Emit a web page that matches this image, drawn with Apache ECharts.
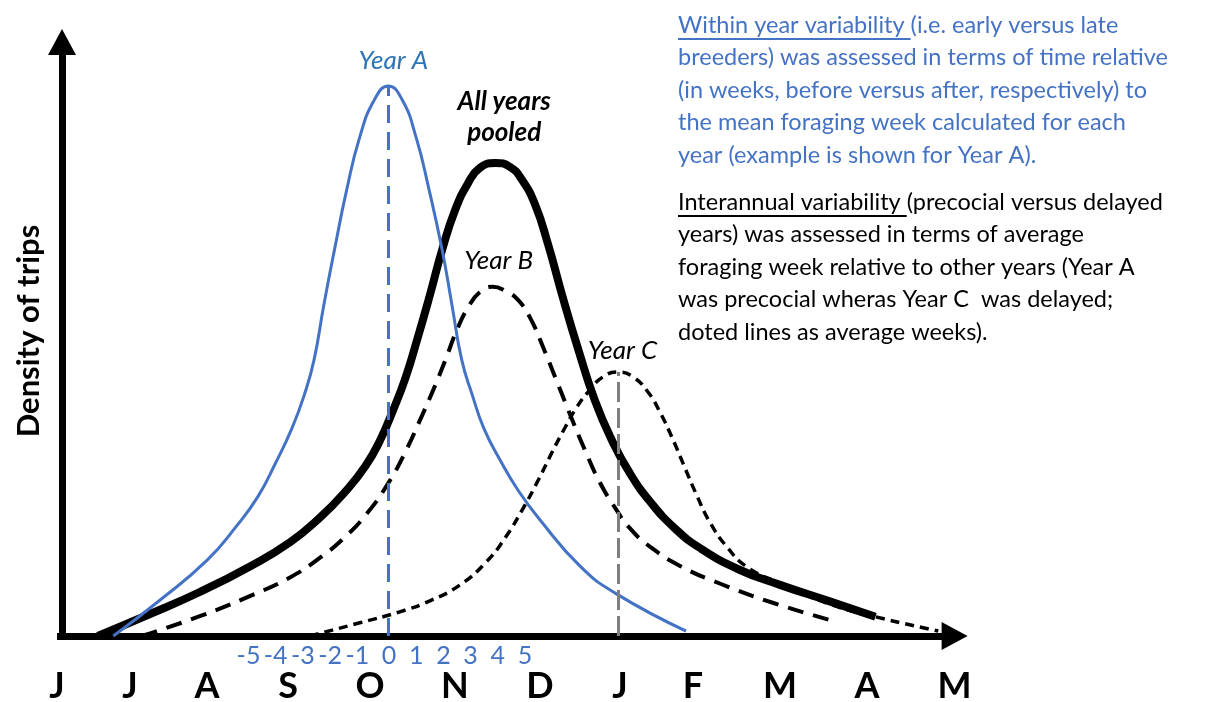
<!DOCTYPE html>
<html>
<head>
<meta charset="utf-8">
<script src="https://cdn.jsdelivr.net/npm/echarts@6/dist/echarts.min.js"></script>
<style>
  html, body { margin: 0; padding: 0; background: #ffffff; }
  #chart { width: 1215px; height: 702px; }
</style>
</head>
<body>
<div id="chart"></div>
<script>
// Month initials along the time axis (June to May) and where each one sits
const months = ['J', 'J', 'A', 'S', 'O', 'N', 'D', 'J', 'F', 'M', 'A', 'M'];
const monthPos = [0, 0.895, 1.838, 2.831, 3.836, 4.877, 5.919, 6.900, 7.794, 8.860, 9.926, 11.0];
// Relative weeks around the Year A mean foraging week
const weekMin = -5;
const weekMax = 5;

// Density curves: [time position, relative density]
const yearA = [
  [0.69, 0], [1.26, 6.5], [1.84, 13.8], [2.19, 19.8], [2.46, 25.3], [2.68, 31.5],
  [2.88, 37.8], [3.03, 43.8], [3.15, 50.2], [3.27, 60.2], [3.40, 70.2], [3.55, 81.1],
  [3.71, 90.7], [3.89, 97.5], [4.06, 100], [4.23, 97.5], [4.40, 90.7], [4.56, 81.1],
  [4.72, 70.2], [4.84, 60.2], [4.96, 50.2], [5.09, 43.8], [5.23, 37.8], [5.43, 32.0],
  [5.65, 26.5], [5.92, 21.1], [6.41, 12.7], [6.84, 7.8], [7.71, 0.9]
];
const pooled = [
  [0.50, 0], [1.14, 4.0], [1.75, 8.0], [2.37, 12.7], [2.86, 17.1], [3.22, 21.5],
  [3.53, 26.2], [3.78, 30.9], [3.96, 35.6], [4.12, 41.1], [4.27, 46.9], [4.42, 54.2],
  [4.57, 62.0], [4.72, 70.2], [4.88, 77.5], [5.04, 82.4], [5.18, 85.1], [5.37, 86.0],
  [5.55, 85.3], [5.70, 82.9], [5.86, 78.4], [6.02, 71.1], [6.19, 62.0], [6.39, 52.0],
  [6.59, 42.9], [6.80, 35.6], [7.02, 29.6], [7.27, 24.4], [7.57, 19.6], [7.88, 16.0],
  [8.37, 12.0], [8.86, 9.3], [9.47, 6.3], [10.03, 3.5]
];
const yearB = [
  [1.04, 0], [1.75, 3.6], [2.37, 7.3], [2.86, 10.7], [3.22, 14.2], [3.53, 18.0],
  [3.81, 22.5], [4.06, 27.8], [4.27, 33.5], [4.45, 39.3], [4.61, 44.7], [4.76, 50.2],
  [4.90, 55.6], [5.04, 59.8], [5.18, 62.5], [5.34, 63.5], [5.50, 62.7], [5.65, 61.1],
  [5.80, 57.8], [5.96, 52.4], [6.12, 46.5], [6.29, 40.2], [6.47, 33.8], [6.65, 28.0],
  [6.84, 23.3], [7.02, 19.6], [7.27, 16.2], [7.64, 12.7], [8.13, 9.5], [8.78, 6.0],
  [9.57, 2.5]
];
const yearC = [
  [3.10, 0], [3.71, 2.4], [4.20, 4.4], [4.57, 6.4], [4.94, 9.3], [5.25, 13.3],
  [5.49, 17.8], [5.70, 22.9], [5.90, 28.4], [6.07, 33.5], [6.23, 38.0], [6.37, 41.6],
  [6.51, 44.4], [6.69, 47.1], [6.88, 48.0], [7.06, 47.1], [7.24, 44.4], [7.39, 40.7],
  [7.54, 36.0], [7.68, 31.1], [7.84, 25.6], [8.00, 20.7], [8.21, 16.2], [8.46, 12.5],
  [8.86, 9.6], [9.47, 5.8], [10.03, 3.5], [10.80, 0.9]
];

const yAxisTitle = 'Density of trips';
const curveNames = ['Year A', 'All years\npooled', 'Year B', 'Year C'];

const withinHead = 'Within year variability ';
const withinLines = [
  withinHead + '(i.e. early versus late',
  'breeders) was assessed in terms of time relative',
  '(in weeks, before versus after, respectively) to',
  'the mean foraging week calculated for each',
  'year (example is shown for Year A).'
];
const interHead = 'Interannual variability ';
const interLines = [
  interHead + '(precocial versus delayed',
  'years) was assessed in terms of average',
  'foraging week relative to other years (Year A',
  'was precocial wheras Year C  was delayed;',
  'doted lines as average weeks).'
];

const BLUE = '#4472C4';
const FONT = 'Lato, "Open Sans", sans-serif';
const paraFontSize = 23.5;

function peakOf(arr) {
  return arr.reduce((a, b) => (b[1] > a[1] ? b : a));
}
const peakA = peakOf(yearA);
const peakP = peakOf(pooled);
const peakB = peakOf(yearB);
const peakC = peakOf(yearC);

// width of the underlined lead-in words
const measureCtx = document.createElement('canvas').getContext('2d');
measureCtx.font = paraFontSize + 'px Lato';
const withinHeadW = measureCtx.measureText(withinHead).width;
const interHeadW = measureCtx.measureText(interHead).width;

function monthLabel(v) {
  let best = 0;
  for (let i = 1; i < monthPos.length; i++) {
    if (Math.abs(monthPos[i] - v) < Math.abs(monthPos[best] - v)) best = i;
  }
  return months[best];
}

function nameTag(coord, text, offset, style) {
  return {
    symbol: 'circle',
    symbolSize: 1,
    itemStyle: { color: 'rgba(0,0,0,0)' },
    silent: true,
    label: { show: true },
    data: [{
      coord: coord,
      label: Object.assign({
        show: true,
        position: 'top',
        distance: 5,
        offset: offset,
        formatter: text,
        fontFamily: FONT,
        fontSize: 26,
        fontStyle: 'italic',
        lineHeight: 28,
        align: 'center',
        color: '#000'
      }, style)
    }]
  };
}

const chart = echarts.init(document.getElementById('chart'), null, { renderer: 'canvas' });

const weekLabelStyle = { color: BLUE, fontSize: 25, fontFamily: FONT };

chart.setOption({
  animation: false,
  backgroundColor: '#ffffff',
  grid: [
    { left: 57, right: 260.4, top: 42, bottom: 66, containLabel: false, outerBoundsMode: 'none' },
    { left: 253, right: 690, top: 42, bottom: 66, containLabel: false, outerBoundsMode: 'none' }
  ],
  xAxis: [
    {
      type: 'value', gridIndex: 0, min: 0, max: 11,
      axisLine: {
        show: true, onZero: false,
        symbol: ['none', 'triangle'], symbolSize: [28, 26],
        lineStyle: { color: '#000', width: 7, cap: 'butt' }
      },
      axisTick: { show: false },
      splitLine: { show: false },
      axisLabel: {
        show: true, margin: 32,
        customValues: monthPos,
        showMinLabel: true, showMaxLabel: true, hideOverlap: false,
        formatter: (v) => monthLabel(v),
        color: '#000', fontSize: 36, fontWeight: 'bold', fontFamily: FONT
      }
    },
    {
      type: 'value', gridIndex: 1, min: weekMin, max: weekMax, interval: 1,
      axisLine: { show: false }, axisTick: { show: false }, splitLine: { show: false },
      axisLabel: {
        show: true, margin: 7,
        formatter: (v) => (v < 0 ? '{n|' + v + '}' : '{p|' + v + '}'),
        rich: {
          n: Object.assign({ padding: [0, 9, 0, 0] }, weekLabelStyle),
          p: Object.assign({}, weekLabelStyle)
        }
      }
    }
  ],
  yAxis: [
    {
      type: 'value', gridIndex: 0, min: 0, max: 108, offset: -5,
      axisLine: {
        show: true,
        symbol: ['none', 'triangle'], symbolSize: [28, 26],
        lineStyle: { color: '#000', width: 7, cap: 'butt' }
      },
      axisTick: { show: false },
      splitLine: { show: false },
      axisLabel: { show: false },
      name: yAxisTitle,
      nameLocation: 'middle',
      nameGap: 18,
      nameRotate: 90,
      nameTextStyle: {
        color: '#000', fontSize: 31, fontWeight: 'bold', fontFamily: FONT,
        padding: [0, 0, 0, 16]
      }
    },
    {
      type: 'value', gridIndex: 1, min: 0, max: 108, show: false
    }
  ],
  series: [
    {
      type: 'line', name: 'pooled', data: pooled, xAxisIndex: 0, yAxisIndex: 0,
      smooth: 0.5, showSymbol: false, symbol: 'none', silent: true, z: 2,
      lineStyle: { color: '#000', width: 8, cap: 'butt' },
      markPoint: nameTag(peakP, curveNames[1], [9, -9],
        { fontWeight: 'bold', lineHeight: 31 })
    },
    {
      type: 'line', name: 'Year B', data: yearB, xAxisIndex: 0, yAxisIndex: 0,
      smooth: 0.5, showSymbol: false, symbol: 'none', silent: true, z: 3,
      lineStyle: { color: '#000', width: 4, type: [16, 10], cap: 'butt' },
      markPoint: nameTag(peakB, curveNames[2], [6, -7], {})
    },
    {
      type: 'line', name: 'Year C', data: yearC, xAxisIndex: 0, yAxisIndex: 0,
      smooth: 0.5, showSymbol: false, symbol: 'none', silent: true, z: 3,
      lineStyle: { color: '#000', width: 3.5, type: [9, 6], cap: 'butt' },
      markPoint: nameTag(peakC, curveNames[3], [4, -2], {}),
      markLine: {
        silent: true, symbol: ['none', 'none'], label: { show: false },
        lineStyle: { color: '#7F7F7F', width: 3, type: [20, 6] },
        data: [[{ coord: [peakC[0], 0] }, { coord: [peakC[0], peakC[1]] }]]
      }
    },
    {
      type: 'line', name: 'Year A', data: yearA, xAxisIndex: 0, yAxisIndex: 0,
      smooth: 0.5, showSymbol: false, symbol: 'none', silent: true, z: 4,
      lineStyle: { color: BLUE, width: 3 },
      markPoint: nameTag(peakA, curveNames[0], [5, -6], { color: '#2E75B6' }),
      markLine: {
        silent: true, symbol: ['none', 'none'], label: { show: false },
        lineStyle: { color: BLUE, width: 3, type: [18, 9] },
        data: [[{ coord: [peakA[0], 0] }, { coord: [peakA[0], peakA[1]] }]]
      }
    }
  ],
  graphic: [
    {
      type: 'text', left: 678, top: 9, silent: true,
      style: {
        text: withinLines.join('\n'),
        fill: BLUE, fontSize: paraFontSize, fontFamily: 'Lato', lineHeight: 32.5
      }
    },
    {
      type: 'line', silent: true,
      shape: { x1: 678, y1: 39, x2: 678 + withinHeadW, y2: 39 },
      style: { stroke: BLUE, lineWidth: 1.8 }
    },
    {
      type: 'text', left: 678, top: 186, silent: true,
      style: {
        text: interLines.join('\n'),
        fill: '#000', fontSize: paraFontSize, fontFamily: 'Lato', lineHeight: 32.5
      }
    },
    {
      type: 'line', silent: true,
      shape: { x1: 678, y1: 216, x2: 678 + interHeadW, y2: 216 },
      style: { stroke: '#000', lineWidth: 1.8 }
    }
  ]
});
</script>
</body>
</html>
